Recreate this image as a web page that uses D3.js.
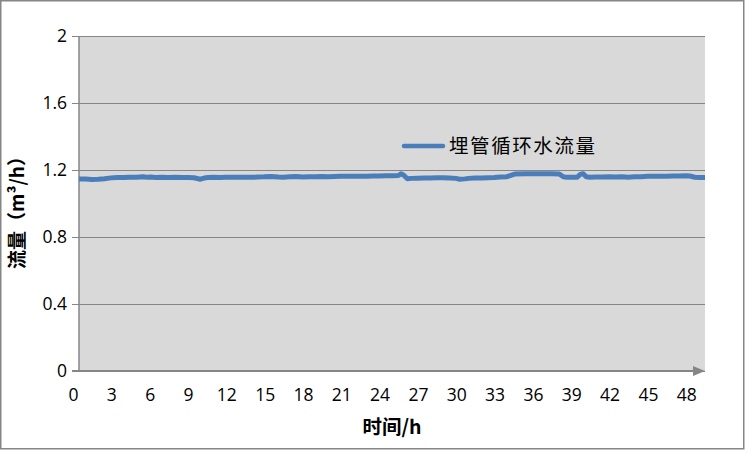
<!DOCTYPE html>
<html><head><meta charset="utf-8">
<script src="https://cdn.jsdelivr.net/npm/d3@7"></script>
<style>html,body{margin:0;padding:0;background:#fff;}svg{display:block;}</style>
</head><body>
<svg id="c" width="752" height="452"></svg>
<script>
const seriesName = "埋管循环水流量";
const xTitle = "时间/h";
const yTitle = "流量（m³/h）";
const xTicks = [0,3,6,9,12,15,18,21,24,27,30,33,36,39,42,45,48];
const yTicks = [0,0.4,0.8,1.2,1.6,2];
const hours = [0,0.5,1,1.5,2,2.5,3,3.5,4,4.5,5,5.3,5.6,6,6.5,7,7.5,8,8.5,9,9.5,9.8,10.1,10.5,11,11.5,12,12.5,13,13.5,14,14.5,15,15.3,15.6,16,16.5,17,17.5,18,18.5,19,19.5,20,20.5,21,21.5,22,22.5,23,23.5,24,24.5,25,25.2,25.4,25.7,26,26.5,27,27.5,28,28.5,29,29.5,29.8,30.2,30.5,31,31.5,32,32.5,33,33.5,33.8,34.1,35,36,37,37.6,37.9,38.2,38.6,39,39.2,39.45,39.7,40,40.5,41,41.5,42,42.5,43,43.5,44,44.5,45,45.5,46,46.5,47,47.5,47.8,48.2,48.6,49];
const flow  = [1.147,1.146,1.143,1.145,1.148,1.153,1.155,1.155,1.156,1.157,1.160,1.157,1.158,1.155,1.156,1.155,1.156,1.155,1.155,1.154,1.145,1.152,1.155,1.156,1.155,1.157,1.156,1.156,1.157,1.156,1.158,1.159,1.161,1.160,1.158,1.157,1.159,1.161,1.158,1.160,1.159,1.161,1.160,1.161,1.162,1.162,1.162,1.163,1.163,1.164,1.164,1.165,1.166,1.167,1.177,1.170,1.148,1.150,1.151,1.152,1.152,1.153,1.154,1.152,1.150,1.145,1.147,1.150,1.152,1.152,1.154,1.155,1.158,1.160,1.168,1.176,1.177,1.177,1.177,1.176,1.160,1.156,1.157,1.157,1.172,1.178,1.160,1.157,1.158,1.158,1.159,1.158,1.160,1.157,1.159,1.160,1.162,1.162,1.163,1.163,1.164,1.164,1.165,1.164,1.157,1.155,1.155];

const svg = d3.select("#c");
const L = 79, R = 705, T = 36, B = 371;
const x = d3.scaleLinear().domain([0,49]).range([L,R]);
const y = d3.scaleLinear().domain([0,2]).range([B,T]);
const grey = "#868686";
const font = "'Open Sans', 'Liberation Sans', sans-serif";

svg.append("rect").attr("x",0.75).attr("y",0.75).attr("width",743).attr("height",448)
  .attr("fill","#fff").attr("stroke",grey).attr("stroke-width",1.5);
svg.append("rect").attr("x",L).attr("y",T).attr("width",R-L).attr("height",B-T).attr("fill","#d9d9d9");

// gridlines + y ticks
const yAxis = d3.axisLeft(y).tickValues(yTicks).tickSize(-(R-L)).tickPadding(12)
  .tickFormat(d => d3.format("")(+d.toFixed(1)));
const gy = svg.append("g").attr("transform",`translate(${L},0)`).call(yAxis);
gy.select(".domain").remove();
gy.selectAll(".tick line").attr("stroke",grey).attr("stroke-width",1).attr("x1",-7);
gy.selectAll(".tick text").attr("font-family",font).attr("font-size",17.5).attr("fill","#000");

// y axis line
svg.append("line").attr("x1",L).attr("x2",L).attr("y1",T).attr("y2",B).attr("stroke",grey).attr("stroke-width",1.5);

// x axis
const xAxis = d3.axisBottom(x).tickValues(xTicks).tickSize(0).tickPadding(18);
const gx = svg.append("g").attr("transform",`translate(0,${B})`).call(xAxis);
gx.select(".domain").remove();
gx.selectAll(".tick text").attr("font-family",font).attr("font-size",17.5).attr("fill","#000").attr("dx",-6);
svg.append("line").attr("x1",L-7).attr("x2",R-10).attr("y1",B).attr("y2",B).attr("stroke",grey).attr("stroke-width",2);
svg.append("path").attr("d",`M${R-12},${B-5}L${R},${B}L${R-12},${B+5}Z`).attr("fill",grey);

// series
const pts = hours.map((h,i)=>[h,flow[i]]);
svg.append("path").datum(pts)
  .attr("d", d3.line().x(d=>x(d[0])).y(d=>y(d[1])))
  .attr("fill","none").attr("stroke","#4a7ebb").attr("stroke-width",5).attr("stroke-linejoin","round");

// legend
svg.append("line").attr("x1",404).attr("x2",443).attr("y1",146).attr("y2",146)
  .attr("stroke","#4a7ebb").attr("stroke-width",4.5).attr("stroke-linecap","round");
svg.append("text").attr("x",449).attr("y",146).attr("dy","0.36em")
  .attr("font-family","'Noto Sans CJK SC', sans-serif").attr("font-size",19.5).attr("fill","#000")
  .attr("textLength",146).text(seriesName);

// titles
svg.append("text").attr("x",392).attr("y",427).attr("dy","0.35em").attr("text-anchor","middle")
  .attr("font-family","'Noto Sans CJK SC', sans-serif").attr("font-weight","bold").attr("font-size",19.5).attr("fill","#000")
  .text(xTitle);
svg.append("text").attr("transform","translate(17,208) rotate(-90)").attr("dy","0.35em").attr("text-anchor","middle")
  .attr("font-family","'Noto Sans CJK SC', sans-serif").attr("font-weight","bold").attr("font-size",19).attr("fill","#000")
  .text(yTitle);
</script>
</body></html>
